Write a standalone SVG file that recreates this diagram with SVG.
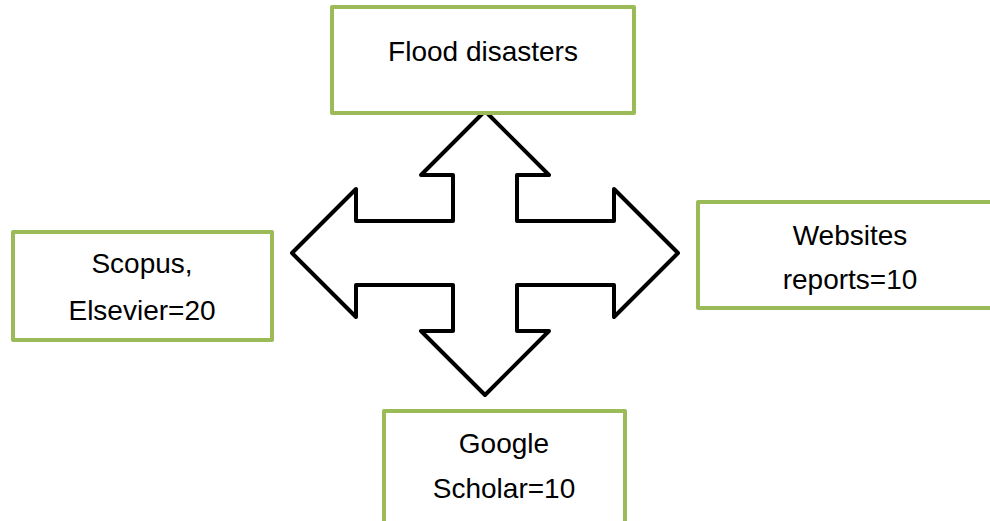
<svg xmlns="http://www.w3.org/2000/svg" width="990" height="521" viewBox="0 0 990 521">
<style>
.box{fill:#fff;stroke:#9BBB59;stroke-width:4;stroke-linejoin:round}
.t{font-family:"Liberation Sans",Arial,sans-serif;font-size:28px;fill:#000;text-anchor:middle}
.arrow{fill:#fff;stroke:#000;stroke-width:4;stroke-linejoin:round}
</style>
<rect width="990" height="521" fill="#fff"/>
<g id="connectors">
<path class="arrow" d="M485,111 L549,175 L517,175 L517,221 L614,221 L614,189 L678,253 L614,317 L614,285 L517,285 L517,331 L549,331 L485,395 L421,331 L453,331 L453,285 L356,285 L356,317 L292,253 L356,189 L356,221 L453,221 L453,175 L421,175 Z"/>
</g>
<g id="flood">
<rect class="box" x="332" y="7" width="302" height="106"/>
<text class="t" x="483" y="61">Flood disasters</text>
</g>
<g id="scopus">
<rect class="box" x="13" y="232" width="259" height="108"/>
<text class="t" x="142" y="273">Scopus,</text>
<text class="t" x="142" y="320">Elsevier=20</text>
</g>
<g id="websites">
<rect class="box" x="698" y="202" width="300" height="106"/>
<text class="t" x="850" y="245">Websites</text>
<text class="t" x="850" y="289">reports=10</text>
</g>
<g id="google">
<rect class="box" x="384" y="411" width="241" height="120"/>
<text class="t" x="504" y="453">Google</text>
<text class="t" x="504" y="498">Scholar=10</text>
</g>
</svg>
